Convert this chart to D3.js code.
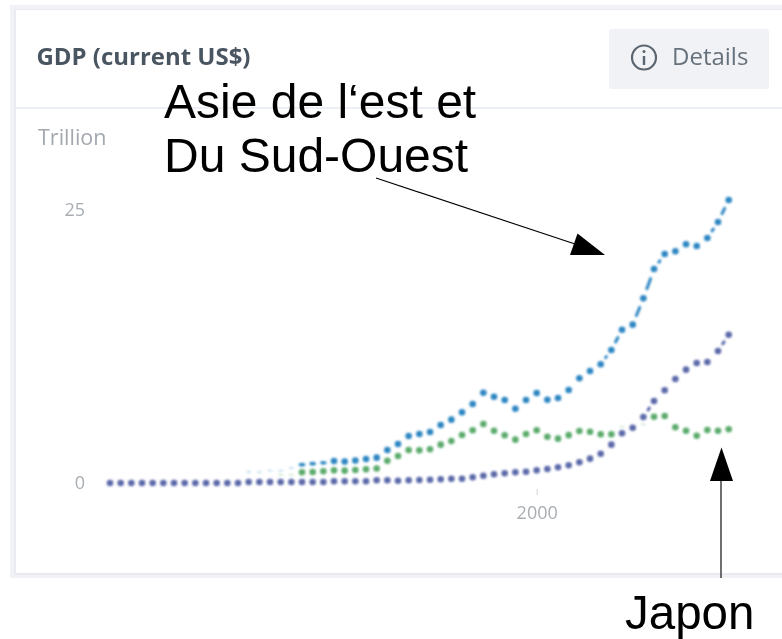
<!DOCTYPE html>
<html>
<head>
<meta charset="utf-8">
<script src="https://cdn.jsdelivr.net/npm/d3@7"></script>
<style>
  html, body { margin: 0; padding: 0; background: #fff; }
  svg { display: block; }
  .ui { font-family: "Open Sans", sans-serif; }
  .note { font-family: "Liberation Sans", sans-serif; font-size: 48px; fill: #000; }
</style>
</head>
<body>
<svg id="chart" width="782" height="639"></svg>
<script>
const startYear = 1960;
const xTicks = [2000];
const yTicks = [0, 25];

// Trillion US$, 1960 to 2018
const eastAsia = [0.1, 0.1, 0.11, 0.12, 0.13, 0.15, 0.17, 0.2, 0.23, 0.27, 0.31, 0.45, 0.6,
  1.01, 1.01, 1.13, 1.13, 1.37, 1.68, 1.77, 1.86, 2.01, 1.97, 2.06, 2.2, 2.32, 3.02, 3.57, 4.3,
  4.49, 4.67, 5.31, 5.8, 6.47, 7.23, 8.27, 7.9, 7.6, 6.8, 7.6, 8.24, 7.63, 7.78, 8.52, 9.59,
  10.26, 10.87, 12.18, 14.04, 14.5, 16.91, 19.6, 20.97, 21.22, 21.86, 21.7, 22.44, 23.9, 25.92];
const japan = [0.04, 0.05, 0.06, 0.07, 0.08, 0.09, 0.1, 0.12, 0.15, 0.17, 0.21, 0.24, 0.31,
  0.42, 0.47, 0.52, 0.76, 0.76, 0.98, 1.01, 1.07, 1.16, 1.13, 1.19, 1.25, 1.33, 2.03, 2.47, 3.02,
  2.99, 3.09, 3.51, 3.85, 4.4, 4.83, 5.4, 4.79, 4.37, 3.97, 4.49, 4.83, 4.24, 4.06, 4.38, 4.76,
  4.7, 4.46, 4.46, 5.16, 5.22, 5.38, 6.07, 6.14, 5.1, 4.79, 4.33, 4.85, 4.79, 4.92];
const china = [0, 0, 0, 0, 0, 0, 0, 0, 0, 0, 0, 0, 0,
  0.09, 0.09, 0.09, 0.09, 0.09, 0.09, 0.09, 0.09, 0.16, 0.16, 0.16, 0.16, 0.25, 0.25, 0.21, 0.25,
  0.27, 0.3, 0.34, 0.39, 0.39, 0.52, 0.67, 0.8, 0.89, 0.98, 1.03, 1.16, 1.28, 1.44, 1.62, 1.9,
  2.23, 2.68, 3.51, 4.55, 5.06, 6.04, 7.51, 8.49, 9.52, 10.38, 10.99, 11.08, 12.09, 13.58];

const svg = d3.select("#chart");

const defs = svg.append("defs");
defs.append("filter").attr("id", "soft")
  .attr("x", "-5%").attr("y", "-5%").attr("width", "110%").attr("height", "110%")
  .append("feGaussianBlur").attr("stdDeviation", 0.8);
defs.append("filter").attr("id", "softText")
  .attr("x", "-5%").attr("y", "-20%").attr("width", "110%").attr("height", "140%")
  .append("feGaussianBlur").attr("stdDeviation", 0.4);

// card: pale band with a slightly darker inner edge
svg.append("rect").attr("x", 10).attr("y", 5).attr("width", 772).attr("height", 573).attr("fill", "#f1f2f6");
svg.append("rect").attr("x", 14).attr("y", 9).attr("width", 768).attr("height", 566).attr("fill", "#e9ebef");
svg.append("rect").attr("x", 16).attr("y", 10).attr("width", 766).attr("height", 563).attr("fill", "#fff");
svg.append("line").attr("x1", 16).attr("x2", 782).attr("y1", 108).attr("y2", 108)
  .attr("stroke", "#eceff3").attr("stroke-width", 2);

const ui = svg.append("g").attr("class", "ui").attr("filter", "url(#softText)");
ui.append("text").attr("x", 36.5).attr("y", 65)
  .attr("font-size", 23).attr("font-weight", 700).attr("fill", "#4a5560")
  .attr("textLength", 214).attr("lengthAdjust", "spacingAndGlyphs")
  .text("GDP (current US$)");

// details button
ui.append("rect").attr("x", 609).attr("y", 29).attr("width", 160).attr("height", 60).attr("rx", 3)
  .attr("fill", "#f1f2f5");
ui.append("circle").attr("cx", 644).attr("cy", 57.5).attr("r", 12)
  .attr("fill", "none").attr("stroke", "#5b6670").attr("stroke-width", 2.2);
ui.append("line").attr("x1", 644).attr("x2", 644).attr("y1", 56).attr("y2", 65)
  .attr("stroke", "#5b6670").attr("stroke-width", 2.4);
ui.append("circle").attr("cx", 644).attr("cy", 51.5).attr("r", 1.5).attr("fill", "#5b6670");
ui.append("text").attr("x", 672).attr("y", 65)
  .attr("font-size", 24).attr("fill", "#66717b").text("Details");

ui.append("text").attr("x", 38).attr("y", 145)
  .attr("font-size", 21.5).attr("fill", "#a2a8ae").text("Trillion");

// scales and axes
const x = d3.scaleLinear().domain([startYear, 2018]).range([110, 728.7]);
const y = d3.scaleLinear().domain([0, 25]).range([483, 210]);

const xAxis = ui.append("g")
  .attr("transform", "translate(0,489)")
  .call(d3.axisBottom(x).tickValues(xTicks).tickFormat(d3.format("d")).tickSize(6).tickPadding(11));
const yAxis = ui.append("g")
  .attr("transform", "translate(85,0)")
  .call(d3.axisLeft(y).tickValues(yTicks).tickSize(0).tickPadding(0));
[xAxis, yAxis].forEach(a => {
  a.select(".domain").remove();
  a.selectAll("line").attr("stroke", "#ccd0d4");
  a.selectAll("text").attr("font-family", "Open Sans").attr("font-size", 18).attr("fill", "#a9aeb3");
});

// dotted series: a dot per year, a short dash across steep steps.
// Years where a series only shows as a thin sliver under the others
const seriesList = [
  { values: eastAsia, color: "#2d86c2", faint: d3.range(1973, 1978), hidden: d3.range(1960, 1973), small: d3.range(1978, 1981) },
  { values: japan, color: "#5cab6c", faint: [1976, 1977, 2008, 2010], hidden: d3.range(1960, 1976).concat([2009]), small: [] },
  { values: china, color: "#5b69a9", faint: [], hidden: [], small: [] }
];

const marks = svg.append("g").attr("filter", "url(#soft)");

seriesList.forEach(s => {
  const g = marks.append("g");
  const pts = s.values.map((v, i) => ({ year: startYear + i, px: x(startYear + i), py: y(v) }));

  d3.pairs(pts).forEach(([a, b]) => {
    const len = Math.hypot(b.px - a.px, b.py - a.py);
    if (len < 16 || s.hidden.includes(a.year)) return;
    const cut = (1 - (len - 16) * 0.7 / len) / 2;
    g.append("line")
      .attr("x1", a.px + (b.px - a.px) * cut).attr("y1", a.py + (b.py - a.py) * cut)
      .attr("x2", b.px - (b.px - a.px) * cut).attr("y2", b.py - (b.py - a.py) * cut)
      .attr("stroke", s.color).attr("stroke-width", 3).attr("stroke-linecap", "round");
  });

  g.selectAll("ellipse")
    .data(pts.filter(d => !s.hidden.includes(d.year)))
    .join("ellipse")
    .attr("cx", d => d.px)
    .attr("cy", d => d.py)
    .attr("rx", d => s.faint.includes(d.year) ? 2.6 : 3.3)
    .attr("ry", d => s.faint.includes(d.year) ? 0.7 : s.small.includes(d.year) ? 1.8 : 3.3)
    .attr("fill", s.color)
    .attr("opacity", d => s.faint.includes(d.year) ? 0.4 : 1);
});

// annotations
const notes = svg.append("g");
notes.append("text").attr("class", "note").attr("x", 164).attr("y", 117.5).text("Asie de l‘est et");
notes.append("text").attr("class", "note").attr("x", 164).attr("y", 171.5).text("Du Sud-Ouest");
notes.append("text").attr("class", "note").attr("x", 625).attr("y", 628.8)
  .style("font-size", "47.5px").text("Japon");

notes.append("line").attr("x1", 376).attr("y1", 178).attr("x2", 575).attr("y2", 244)
  .attr("stroke", "#000").attr("stroke-width", 1.2);
notes.append("path").attr("d", "M605,255L577.5,233.5L570,255Z").attr("fill", "#000");
notes.append("line").attr("x1", 721).attr("y1", 480).attr("x2", 721).attr("y2", 578)
  .attr("stroke", "#333").attr("stroke-width", 1.4);
notes.append("path").attr("d", "M721.5,447.5L710,481L733,481Z").attr("fill", "#000");
</script>
</body>
</html>
